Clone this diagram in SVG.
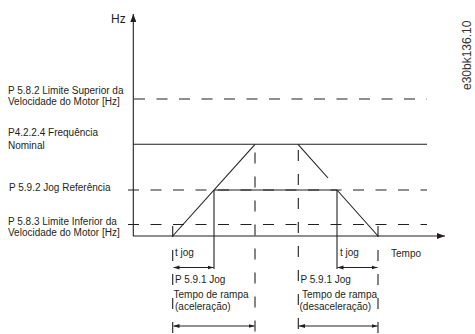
<svg xmlns="http://www.w3.org/2000/svg" width="475" height="334" viewBox="0 0 475 334">
<style>
text{font-family:"Liberation Sans",Arial,sans-serif;font-size:10px;fill:#231f20}
.s{stroke:#231f20;stroke-width:1.1;fill:none}
.d{stroke:#231f20;stroke-width:1.1;fill:none;stroke-dasharray:11 11.5}
.v{stroke:#231f20;stroke-width:1.1;fill:none;stroke-dasharray:11 13}
.a{stroke:#231f20;stroke-width:1;fill:none;marker-start:url(#ah);marker-end:url(#ah)}
</style>
<defs>
<marker id="ah" viewBox="0 0 6 6" refX="6" refY="3" markerWidth="6" markerHeight="6" markerUnits="userSpaceOnUse" orient="auto-start-reverse"><path d="M0,1 L6,3 L0,5 Z" fill="#231f20"/></marker>
<marker id="ax" viewBox="0 0 8 6" refX="8" refY="3" markerWidth="8" markerHeight="6" markerUnits="userSpaceOnUse" orient="auto"><path d="M0,0 L8,3 L0,6 Z" fill="#231f20"/></marker>
</defs>
<g id="axes">
<line class="s" x1="133.3" y1="236" x2="133.3" y2="14" marker-end="url(#ax)"/>
<line class="s" x1="133" y1="236" x2="445" y2="236" marker-end="url(#ax)"/>
<text x="111" y="23" style="font-size:12px">Hz</text>
<text x="391" y="257">Tempo</text>
</g>
<g id="levels">
<line class="d" x1="134" y1="99" x2="427" y2="99"/>
<line class="s" x1="133" y1="144.3" x2="427" y2="144.3"/>
<line class="d" x1="128" y1="190" x2="427" y2="190"/>
<line class="d" x1="128" y1="224.5" x2="427" y2="224.5"/>
</g>
<g id="labels">
<text x="8" y="94">P 5.8.2 Limite Superior da</text>
<text x="8" y="105">Velocidade do Motor [Hz]</text>
<text x="8" y="136">P4.2.2.4 Frequência</text>
<text x="8" y="148.5">Nominal</text>
<text x="9" y="190.5">P 5.9.2 Jog Referência</text>
<text x="8" y="225">P 5.8.3 Limite Inferior da</text>
<text x="8" y="235.5">Velocidade do Motor [Hz]</text>
</g>
<g id="profile">
<line class="s" x1="172.7" y1="236" x2="255" y2="144.3"/>
<line class="s" x1="214" y1="190" x2="337" y2="190"/>
<line class="s" x1="214" y1="190" x2="214" y2="269"/>
<line class="s" x1="337" y1="190" x2="337" y2="269"/>
<line class="s" x1="337" y1="190" x2="378" y2="236"/>
<line class="s" x1="298" y1="144.3" x2="328" y2="178"/>
</g>
<g id="connectors">
<line class="v" x1="255" y1="152.5" x2="255" y2="334"/>
<line class="v" x1="298.3" y1="150" x2="298.3" y2="334"/>
<line class="v" x1="172.7" y1="226" x2="172.7" y2="334"/>
<line class="v" x1="378" y1="226" x2="378" y2="334"/>
<line class="a" x1="173.5" y1="267.5" x2="213.5" y2="267.5"/>
<line class="a" x1="337.5" y1="267.5" x2="377.5" y2="267.5"/>
<line class="a" x1="173.5" y1="326" x2="254.5" y2="326"/>
<line class="a" x1="299" y1="326" x2="377.5" y2="326"/>
</g>
<g id="time-labels">
<text x="175" y="256">t jog</text>
<text x="340" y="256">t jog</text>
<text x="175" y="283">P 5.9.1 Jog</text>
<text x="173.5" y="298">Tempo de rampa</text>
<text x="175" y="310">(aceleração)</text>
<text x="300.5" y="283">P 5.9.1 Jog</text>
<text x="302" y="298">Tempo de rampa</text>
<text x="299.5" y="310">(desaceleração)</text>
</g>
<text x="0" y="0" transform="translate(471,90) rotate(-90)" style="font-size:12px;fill:#333">e30bk136.10</text>
</svg>
